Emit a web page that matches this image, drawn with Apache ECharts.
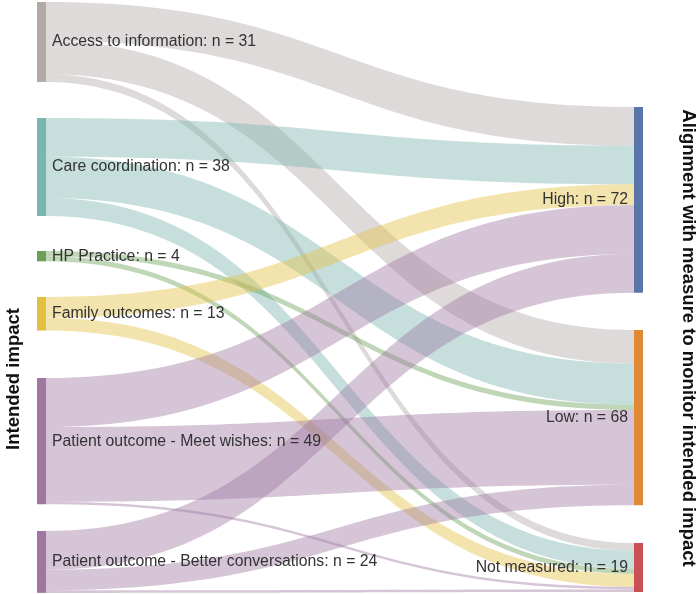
<!DOCTYPE html>
<html>
<head>
<meta charset="utf-8">
<script src="https://cdn.jsdelivr.net/npm/echarts@6/dist/echarts.min.js"></script>
<style>
html,body{margin:0;padding:0;background:#fff;}
#chart{width:700px;height:594px;}
</style>
</head>
<body>
<div id="chart"></div>
<script>
// ---- data ----
const sources = ['Access to information', 'Care coordination', 'HP Practice', 'Family outcomes', 'Patient outcome - Meet wishes', 'Patient outcome - Better conversations'];
const targets = ['High', 'Low', 'Not measured'];
const toHigh = [15, 15, 0, 8, 19, 15];
const toLow = [13, 16, 2, 0, 29, 8];
const toNotMeasured = [3, 7, 2, 5, 1, 1];
const leftTitle = 'Intended impact';
const rightTitle = 'Alignment with measure to monitor intended impact';

// ---- styling / placement (not data) ----
const sourceColors = ['#b3aaa6', '#7ab5ae', '#6a9f58', '#e3c044', '#9e78a3', '#9e78a3'];
const targetColors = ['#5a76a8', '#e08a38', '#cc4f55'];
const boxTop = 2, boxHeight = 590;
const sourceTopsPx = [2, 118, 251, 297, 378, 531];
const targetTopsPx = [107, 330, 543];

const flows = [toHigh, toLow, toNotMeasured];
const totals = {};
sources.forEach((s, i) => { totals[s] = toHigh[i] + toLow[i] + toNotMeasured[i]; });
targets.forEach((t, j) => { totals[t] = flows[j].reduce((a, b) => a + b, 0); });

const nodes = [];
sources.forEach((s, i) => nodes.push({
  name: s,
  localY: (sourceTopsPx[i] - boxTop) / boxHeight,
  itemStyle: { color: sourceColors[i] },
  label: { position: 'right' }
}));
targets.forEach((t, j) => nodes.push({
  name: t,
  localY: (targetTopsPx[j] - boxTop) / boxHeight,
  itemStyle: { color: targetColors[j] },
  label: { position: 'left' }
}));

const links = [];
sources.forEach((s, i) => {
  targets.forEach((t, j) => {
    const v = flows[j][i];
    if (v > 0) links.push({ source: s, target: t, value: v });
  });
});

const chart = echarts.init(document.getElementById('chart'), null, { renderer: 'canvas' });
chart.setOption({
  animation: false,
  backgroundColor: '#ffffff',
  series: [{
    type: 'sankey',
    left: 37,
    top: boxTop,
    right: 57,
    bottom: 2,
    nodeWidth: 9,
    nodeGap: 36,
    layoutIterations: 0,
    draggable: false,
    emphasis: { disabled: true },
    data: nodes,
    links: links,
    itemStyle: { borderWidth: 0 },
    lineStyle: { color: 'source', opacity: 0.43, curveness: 0.5 },
    label: {
      show: true,
      distance: 6,
      color: '#333333',
      fontFamily: 'Liberation Sans, Arial, sans-serif',
      fontSize: 15.8,
      formatter: p => p.name + ': n = ' + totals[p.name]
    }
  }],
  graphic: [
    {
      type: 'text',
      x: 14, y: 379,
      rotation: Math.PI / 2,
      style: {
        text: leftTitle,
        fill: '#111111',
        font: 'bold 18.5px "Liberation Sans", Arial, sans-serif',
        textAlign: 'center',
        textVerticalAlign: 'middle'
      }
    },
    {
      type: 'text',
      x: 688, y: 338,
      rotation: -Math.PI / 2,
      style: {
        text: rightTitle,
        fill: '#111111',
        font: 'bold 18.5px "Liberation Sans", Arial, sans-serif',
        textAlign: 'center',
        textVerticalAlign: 'middle'
      }
    }
  ]
});
</script>
</body>
</html>
